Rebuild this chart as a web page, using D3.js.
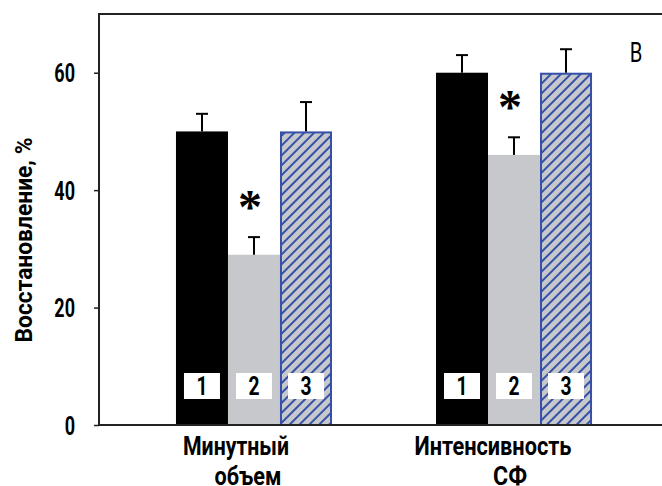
<!DOCTYPE html>
<html><head><meta charset="utf-8">
<script src="https://cdn.jsdelivr.net/npm/d3@7"></script>
<style>
body{margin:0;background:#fff;}
svg{display:block;}
.nar{font-family:Roboto,"Liberation Sans",sans-serif;}
</style></head>
<body>
<svg id="chart" width="662" height="486"></svg>
<script>
const categories = [["Минутный","объем"],["Интенсивность","СФ"]];
const seriesNames = ["1","2","3"];
const values = [[50,29,50],[60,46,60]];
const errors = [[3,3,5],[3,3,4]];
const significant = [[false,true,false],[false,true,false]];
const yTicks = [0,20,40,60];
const panelLabel = "В";
const yTitle = "Восстановление, %";

const W=662,H=486;
const svg=d3.select("#chart");
const defs=svg.append("defs");
const P=7;
const pat=defs.append("pattern").attr("id","hatch").attr("patternUnits","userSpaceOnUse")
  .attr("width",P).attr("height",P).attr("patternTransform","rotate(45)");
pat.append("rect").attr("width",P).attr("height",P).attr("fill","#c7c8cb");
pat.append("line").attr("x1",1).attr("y1",0).attr("x2",1).attr("y2",P).attr("stroke","#3550a8").attr("stroke-width",2);

const x0=d3.scaleBand().domain(d3.range(categories.length)).range([99,669]).paddingInner(0.4).paddingOuter(0.296);
const x1=d3.scaleBand().domain(d3.range(seriesNames.length)).range([0,x0.bandwidth()]);
const y=d3.scaleLinear().domain([0,70]).range([425,14]);

const fills=["#000000","#c7c8cb","url(#hatch)"];

function narrow(sel, ratio){
  sel.each(function(){
    const len=this.getComputedTextLength();
    d3.select(this).attr("textLength",len*ratio).attr("lengthAdjust","spacingAndGlyphs");
  });
}

const g=svg.append("g");
categories.forEach((c,i)=>{
  values[i].forEach((v,j)=>{
    const bx=x0(i)+x1(j), bw=x1.bandwidth();
    if(j===2){
      g.append("rect").attr("x",bx+1).attr("y",y(v)+1).attr("width",bw-2).attr("height",y(0)-y(v)-1)
        .attr("fill",fills[j]).attr("stroke","#3550a8").attr("stroke-width",2);
    } else {
      g.append("rect").attr("x",bx).attr("y",y(v)).attr("width",bw).attr("height",y(0)-y(v)).attr("fill",fills[j]);
    }
    const cx=bx+bw/2;
    g.append("line").attr("x1",cx).attr("x2",cx).attr("y1",y(v)).attr("y2",y(v+errors[i][j])).attr("stroke","#000").attr("stroke-width",2);
    g.append("line").attr("x1",cx-6).attr("x2",cx+6).attr("y1",y(v+errors[i][j])).attr("y2",y(v+errors[i][j])).attr("stroke","#000").attr("stroke-width",2);
    if(significant[i][j]){
      const sy=y(v+errors[i][j])-37;
      g.append("text").attr("x",cx-4).attr("y",sy+0.47*48).attr("text-anchor","middle")
        .attr("font-family","Liberation Serif, serif").attr("font-weight","bold").attr("font-size",48).text("*");
    }
    g.append("rect").attr("x",cx-18).attr("y",373).attr("width",36).attr("height",26).attr("fill","#fff");
    g.append("text").attr("class","nar").attr("x",cx).attr("y",395).attr("text-anchor","middle")
      .attr("font-weight","bold").attr("font-size",26).text(seriesNames[j]).call(narrow,0.74);
  });
});

svg.append("line").attr("x1",98).attr("x2",W).attr("y1",14).attr("y2",14).attr("stroke","#222").attr("stroke-width",2);
svg.append("line").attr("x1",98).attr("x2",W).attr("y1",y(0)).attr("y2",y(0)).attr("stroke","#222").attr("stroke-width",2);
const ax=svg.append("g").attr("transform","translate(99,0)")
  .call(d3.axisLeft(y).tickValues(yTicks).tickSize(5).tickPadding(19).tickFormat(d3.format("d")));
ax.select(".domain").attr("d","M0,13V426").attr("stroke","#222").attr("stroke-width",2);
ax.selectAll(".tick line").attr("stroke","#222").attr("stroke-width",1.5);
ax.selectAll(".tick text").attr("class","nar").attr("font-size",25).attr("font-weight","bold").attr("fill","#000").attr("dy","0.37em")
  .attr("font-family","Roboto, sans-serif").call(narrow,0.72);

svg.append("text").attr("class","nar").attr("transform","translate(32,240) rotate(-90)").attr("text-anchor","middle")
  .attr("font-size",23).attr("font-weight","bold").text(yTitle)
  .attr("textLength",205).attr("lengthAdjust","spacingAndGlyphs");

const lineOffsets=[[-18,-6],[-21,-4]];
const lineWidths=[[106,67],[157,34]];
categories.forEach((c,i)=>{
  c.forEach((t,k)=>{
    svg.append("text").attr("class","nar").attr("x",x0(i)+x0.bandwidth()/2+lineOffsets[i][k]).attr("y",455+30*k)
      .attr("text-anchor","middle").attr("font-size",25).attr("font-weight","bold").text(t)
      .attr("textLength",lineWidths[i][k]).attr("lengthAdjust","spacingAndGlyphs");
  });
});

svg.append("text").attr("class","nar").attr("x",636).attr("y",62).attr("text-anchor","middle").attr("font-size",27).text(panelLabel)
  .call(narrow,0.75);
</script>
</body></html>
